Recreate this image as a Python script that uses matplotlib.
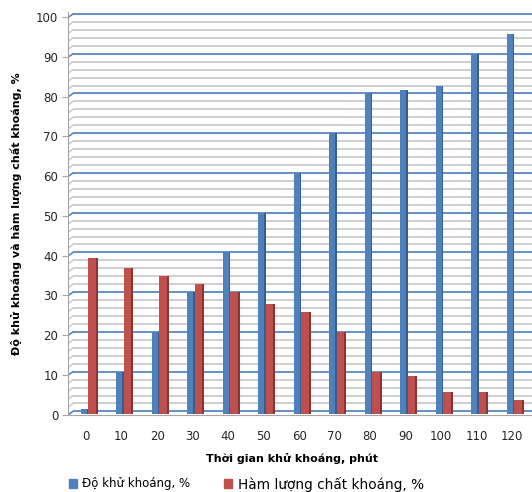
import matplotlib.pyplot as plt
import numpy as np
from matplotlib.patches import Patch

times = ["0", "10", "20", "30", "40", "50", "60", "70", "80", "90", "100", "110", "120"]
demineral = [0.5, 10, 20, 30, 40, 50, 60, 70, 80, 81, 82, 90, 95]
mineral = [38.5, 36, 34, 32, 30, 27, 25, 20, 10, 9, 5, 5, 3]
major_ticks = list(range(0, 101, 10))
minor_ticks = [v for v in range(0, 101, 2) if v % 10]

blue, blue_side = "#4f81bd", "#385d8a"
red, red_side = "#c0504d", "#8b3431"

fig = plt.figure(figsize=(5.32, 4.92), dpi=100)
ax = fig.add_axes([68 / 532, 1 - 415 / 492, 1 - 68 / 532, 403 / 492])

x = np.arange(len(times))
x0, x1 = -0.56, 12.51
ax.set_xlim(x0, x1)
ax.set_ylim(-0.9, 100.5)
floor = -0.6

# back wall grid, with the short slanted piece on the side wall
wall = 0.14
ax.hlines(minor_ticks, x0 + wall, x1, color="#cacaca", lw=1.3, zorder=1)
ax.hlines(major_ticks, x0 + wall, x1, color="#4a7ebb", lw=1.2, zorder=1.2)
for v in minor_ticks:
    ax.plot([x0, x0 + wall], [v - 0.9, v], color="#cacaca", lw=1.1, zorder=1)
for v in major_ticks:
    ax.plot([x0, x0 + wall], [v - 0.9, v], color="#4a7ebb", lw=1.1, zorder=1.2)

# 3D-looking columns: front face plus a darker side face
bw, bs = 0.17, 0.045
rw, rs = 0.2, 0.06
bl = x - 0.2
rl = bl + bw + bs
ax.bar(bl, np.array(demineral) - floor, width=bw, bottom=floor, align="edge",
       color=blue, zorder=3)
ax.bar(bl + bw, np.array(demineral) - floor, width=bs, bottom=floor, align="edge",
       color=blue_side, zorder=3)
ax.bar(rl, np.array(mineral) - floor, width=rw, bottom=floor, align="edge",
       color=red, zorder=3)
ax.bar(rl + rw, np.array(mineral) - floor, width=rs, bottom=floor, align="edge",
       color=red_side, zorder=3)

ax.spines[["top", "right"]].set_visible(False)
ax.spines["left"].set_color("#a6a6a6")
ax.spines["bottom"].set_color("#a6a6a6")
ax.spines["bottom"].set_position(("data", floor - 0.2))

ax.set_yticks([v - 0.8 for v in major_ticks])
ax.set_yticklabels([str(v) for v in major_ticks])
ax.tick_params(axis="y", length=4, color="#a6a6a6", labelsize=8.5,
               labelcolor="#262626", pad=3)
ax.set_xticks(x - 0.05)
ax.set_xticklabels(times)
ax.tick_params(axis="x", length=0, labelsize=8.5, labelcolor="#262626", pad=11)

ax.set_xlabel("Thời gian khử khoáng, phút", fontsize=8, fontweight="bold")
ax.xaxis.set_label_coords((292 - 68) / 464, -38 / 403)
ax.set_ylabel("Độ khử khoáng và hàm lượng chất khoáng, %", fontsize=8,
              fontweight="bold", labelpad=10)

fig.legend(handles=[Patch(color=blue, label="Độ khử khoáng, %")],
           loc="center left", bbox_to_anchor=(58 / 532, 1 - 484 / 492),
           frameon=False, fontsize=8.5, handlelength=0.7, handleheight=0.7,
           handletextpad=0.4)
fig.legend(handles=[Patch(color=red, label="Hàm lượng chất khoáng, %")],
           loc="center left", bbox_to_anchor=(212 / 532, 1 - 484 / 492),
           frameon=False, fontsize=9.8, handlelength=0.6, handleheight=0.6,
           handletextpad=0.4)

fig.savefig("out.png", dpi=100)
